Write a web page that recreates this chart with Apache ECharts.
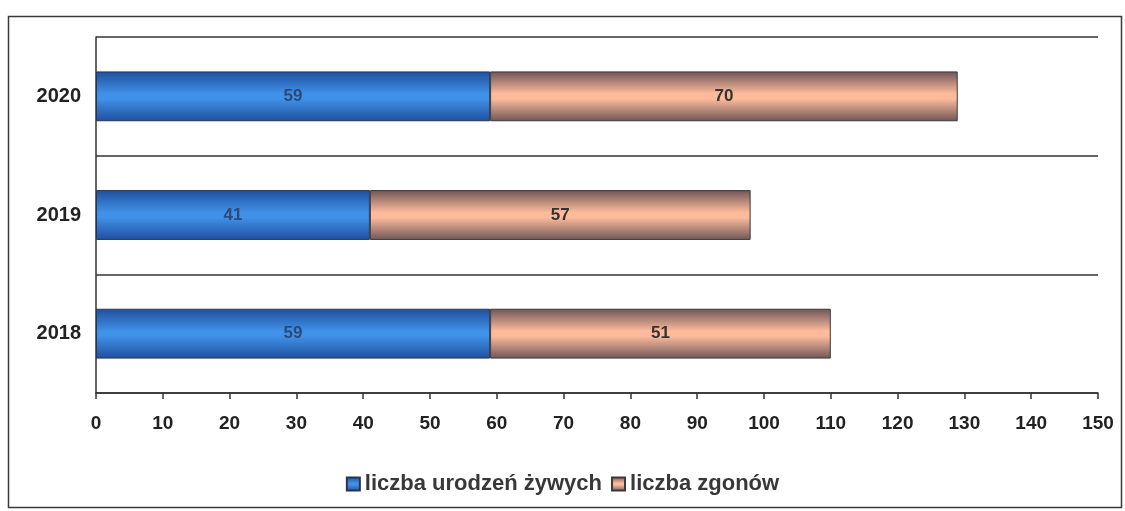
<!DOCTYPE html>
<html>
<head>
<meta charset="utf-8">
<script src="https://cdn.jsdelivr.net/npm/echarts@6/dist/echarts.min.js"></script>
<style>
html, body { margin: 0; padding: 0; background: #fff; }
#chart { width: 1125px; height: 511px; }
</style>
</head>
<body>
<div id="chart"></div>
<script>
// dane z wykresu
var lata = ['2018', '2019', '2020'];
var urodzenia = [59, 41, 59];
var zgony = [51, 57, 70];
var osX = { min: 0, max: 150, interval: 10 };

var font = 'Liberation Sans, Arial, sans-serif';

function gradient(edge, mid) {
	return new echarts.graphic.LinearGradient(0, 0, 0, 1, [
		{ offset: 0, color: edge },
		{ offset: 0.45, color: mid },
		{ offset: 0.55, color: mid },
		{ offset: 1, color: edge }
	]);
}

var chart = echarts.init(document.getElementById('chart'));

var option = {
	backgroundColor: '#fff',
	animation: false,
	textStyle: { fontFamily: font },
	graphic: [
		{
			type: 'rect',
			shape: { x: 8.5, y: 16.5, width: 1113, height: 491 },
			style: { fill: 'none', stroke: '#3a3a3a', lineWidth: 1.5 },
			silent: true
		}
	],
	grid: { left: 96, right: 27, top: 37, bottom: 118 },
	legend: {
		data: ['liczba urodzeń żywych', 'liczba zgonów'],
		left: 'center',
		top: 468,
		itemWidth: 13,
		itemHeight: 13,
		itemGap: 9,
		icon: 'rect',
		textStyle: { fontFamily: font, fontWeight: 'bold', fontSize: 22, color: '#383838' }
	},
	xAxis: {
		type: 'value',
		min: osX.min,
		max: osX.max,
		interval: osX.interval,
		axisLine: { show: true, lineStyle: { color: '#333', width: 1.5 } },
		axisTick: { show: true, length: 6, lineStyle: { color: '#333', width: 1.5 } },
		splitLine: { show: false },
		axisLabel: { fontFamily: font, fontWeight: 'bold', fontSize: 19, color: '#222', margin: 21 }
	},
	yAxis: {
		type: 'category',
		data: lata,
		axisLine: { show: true, lineStyle: { color: '#333', width: 1.5 } },
		axisTick: { show: false },
		splitLine: { show: true, lineStyle: { color: '#333', width: 1.5 } },
		axisLabel: { fontFamily: font, fontWeight: 'bold', fontSize: 20, color: '#222', margin: 15 }
	},
	series: [
		{
			name: 'liczba urodzeń żywych',
			type: 'bar',
			stack: 'razem',
			barWidth: '42%',
			data: urodzenia,
			itemStyle: {
				color: gradient('#1f4f9e', '#4091e8'),
				borderColor: '#2a3550',
				borderWidth: 1
			},
			label: {
				show: true,
				position: 'inside',
				fontFamily: font,
				fontWeight: 'bold',
				fontSize: 17,
				color: '#2c4a78'
			}
		},
		{
			name: 'liczba zgonów',
			type: 'bar',
			stack: 'razem',
			data: zgony,
			itemStyle: {
				color: gradient('#6e5656', '#fdbb9c'),
				borderColor: '#3a3a3a',
				borderWidth: 1
			},
			label: {
				show: true,
				position: 'inside',
				fontFamily: font,
				fontWeight: 'bold',
				fontSize: 17,
				color: '#333'
			}
		}
	]
};

chart.setOption(option);
</script>
</body>
</html>
